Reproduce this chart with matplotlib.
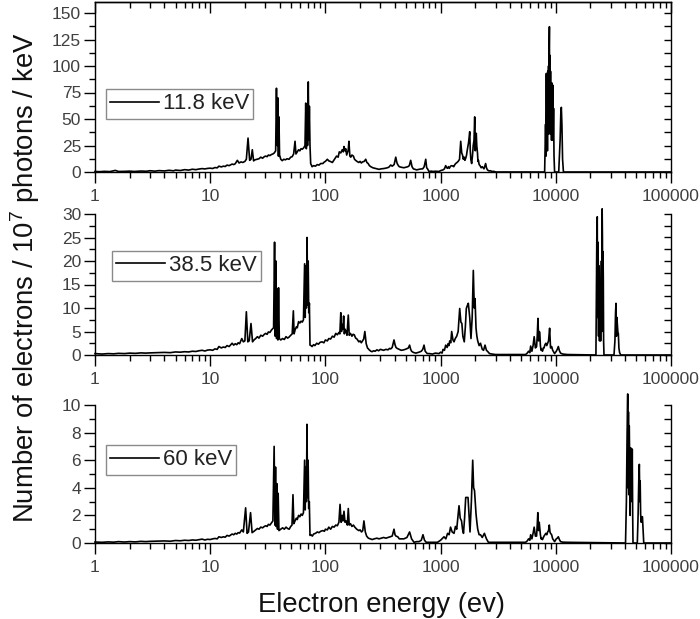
import matplotlib
matplotlib.use("Agg")
import matplotlib.pyplot as plt
from matplotlib.ticker import LogLocator, FuncFormatter, MultipleLocator, NullFormatter

plt.rcParams['font.family'] = ['Liberation Sans', 'DejaVu Sans']
plt.rcParams['mathtext.fontset'] = 'custom'
plt.rcParams['mathtext.rm'] = 'Liberation Sans'
plt.rcParams['mathtext.it'] = 'Liberation Sans'

# ---------------- data ----------------
labels = ['11.8 keV', '38.5 keV', '60 keV']

# 11.8 keV spectrum: (energy eV, electrons)
e_118 = [1, 1.1, 1.2, 1.35, 1.5, 1.6, 1.8, 2, 2.2, 2.5, 2.8, 3, 3.3, 3.6, 4, 4.4, 4.8, 5, 5.5, 6,
         6.5, 7, 7.5, 8, 8.5, 9, 9.5, 10, 10.5, 11, 11.5, 11.9, 12.5, 13, 13.5, 14, 14.6, 15.5, 16, 16.5,
         17.2, 17.8, 18.5, 19.2, 20, 20.6, 21.3, 22, 22.6, 23.2, 23.8, 24.5, 25.6, 26.5, 27.5, 28.5, 29.5, 30.3, 31.2, 32,
         33, 34, 35, 36, 37, 37.6, 38.1, 38.6, 39.1, 39.5, 40, 41, 42.2, 43.5, 45, 46.5, 48.3, 50, 51.5, 53,
         54.5, 55.5, 57, 58.5, 60, 61.5, 63, 65, 66.5, 67.5, 68.3, 69.2, 70, 71, 71.8, 72.6, 73.5, 74.5, 76.6, 79,
         82, 85, 88, 91, 95, 98, 100, 104, 107, 110, 115, 120, 125, 129, 132, 136, 140, 143, 145, 148,
         150, 153, 155, 158, 160, 163, 166, 170, 175, 179, 183, 188, 195, 200, 205, 210, 217, 224, 229, 235,
         241, 248, 258, 270, 280, 292, 305, 318, 330, 345, 355, 369, 380, 395, 408, 415, 420, 430, 438, 455,
         480, 500, 520, 535, 550, 565, 580, 600, 620, 635, 649, 670, 700, 720, 743, 757, 770, 793, 830, 860,
         900, 969, 1010, 1050, 1080, 1107, 1130, 1150, 1170, 1190, 1220, 1250, 1280, 1300, 1330, 1352, 1390, 1420, 1460, 1495,
         1525, 1550, 1575, 1600, 1625, 1652, 1680, 1700, 1750, 1790, 1810, 1830, 1860, 1890, 1920, 1950, 1977, 2000, 2020, 2040,
         2060, 2090, 2110, 2130, 2160, 2200, 2250, 2300, 2380, 2460, 2500, 2550, 2630, 2700, 2800, 2900, 3010, 8000, 8150, 8220,
         8280, 8330, 8400, 8460, 8520, 8580, 8650, 8700, 8760, 8800, 8850, 8900, 8950, 9000, 9060, 9120, 9180, 9250, 9320, 9400,
         9480, 9560, 9650, 9760, 10600, 10900, 11050, 11170, 11300, 11450, 11650, 100000]
n_118 = [0.5, 0.3, 0.6, 0.4, 1.5, 0.5, 0.6, 0.8, 0.5, 0.9, 0.7, 1.2, 0.8, 1.3, 1.0, 1.6, 1.1, 1.8, 1.4, 2.2,
         1.8, 2.6, 2.2, 2.8, 3.2, 2.9, 3.4, 3.6, 3.3, 4.2, 3.9, 5.5, 4.8, 5.5, 5.2, 6.5, 6.0, 7.5, 7.0, 7.8,
         11, 8.5, 9.5, 9.0, 10, 12, 32, 11, 12, 21, 10.5, 11.5, 12, 12.5, 14, 13, 14.5, 15, 14.5, 16,
         15.5, 16.5, 17, 18, 20, 79, 25, 70, 15, 52, 16, 12, 10.7, 12, 11.5, 12.5, 12, 14, 14.5, 17,
         29, 17, 19, 21, 20, 22, 21.5, 23, 25, 65, 22, 60, 25, 85, 30, 62, 25, 8, 5, 6,
         5.5, 7, 6.5, 8, 8, 9.5, 10, 12, 10.5, 10, 9, 12, 15, 14, 19, 18, 21, 19, 24, 20,
         22, 16, 18, 21, 29, 15, 14, 16, 15, 12, 11, 10, 9, 10, 8.5, 9.5, 10, 12, 9, 8,
         6, 5, 4, 3.5, 3, 2.5, 3, 3.2, 3.5, 4, 4.5, 6.6, 5.5, 7, 14, 10, 8, 6, 5, 4.5,
         4, 4.5, 5, 6, 11, 5, 3, 2.5, 2, 2.3, 2.5, 2.8, 3, 5, 12, 4, 3, 0.5, 0.8, 0.5,
         0.7, 0.5, 1.5, 2, 3, 6, 4, 3.5, 5, 3.5, 5.5, 6, 5.5, 5, 7, 8, 9, 10, 12, 29,
         18, 16, 12, 14, 11, 13, 16, 20, 28, 38, 20, 12, 8, 15, 25, 30, 52, 20, 30, 36.5,
         25, 18, 10, 11, 7, 6, 4, 5, 3, 8, 4, 2, 1, 1.2, 0.5, 0.6, 0, 0, 45, 15,
         93, 30, 92, 20, 95, 36, 100, 40, 120, 137, 36, 110, 40, 95, 36, 82, 30, 84, 36, 82,
         30, 60, 15, 0, 0, 30, 55, 61, 45, 12, 0, 0]

# 38.5 keV spectrum
e_385 = [1, 1.15, 1.3, 1.45, 1.6, 1.8, 2, 2.25, 2.5, 2.75, 3, 3.5, 4, 4.5, 5, 5.5, 6, 6.5, 7, 7.5,
         8, 8.5, 9, 9.5, 10, 10.5, 11, 11.5, 11.9, 12.5, 13, 13.5, 14, 14.6, 15.5, 16, 16.5, 17, 17.5, 18,
         18.8, 19.4, 20, 20.6, 21.2, 21.8, 22.6, 23.3, 24, 24.8, 25.7, 26.5, 27.5, 28.5, 29.5, 30.3, 31.2, 32, 33, 34,
         34.6, 35.5, 36.2, 36.7, 37.2, 37.7, 38.2, 38.7, 39.2, 39.8, 41, 42.5, 44, 45.5, 47, 48.3, 50, 51.5, 52.7, 53.5,
         54.5, 56, 57, 58.5, 60, 61.5, 63, 64.5, 66, 66.8, 67.6, 68.4, 69.3, 70.1, 70.9, 71.7, 72.6, 73.5, 75, 76.6,
         79, 81, 84, 87, 90, 93.5, 97, 100, 104, 107, 111, 115, 119, 123, 127, 131, 133.5, 136, 138, 140,
         142, 144, 146, 148, 151, 154, 158, 161, 165, 170, 174, 178, 183, 188, 195, 200, 205, 210, 215, 220,
         226, 232, 240, 248, 254, 262, 270, 280, 290, 300, 310, 320, 335, 350, 360, 369, 380, 394, 402, 410,
         420, 438, 455, 480, 505, 525, 538, 550, 560, 575, 588, 610, 630, 650, 680, 700, 718, 735, 766, 800,
         850, 900, 969, 1000, 1030, 1050, 1080, 1107, 1140, 1160, 1180, 1200, 1225, 1248, 1280, 1308, 1340, 1380, 1420, 1465,
         1500, 1530, 1560, 1605, 1640, 1672, 1705, 1740, 1790, 1835, 1880, 1923, 1960, 1990, 2030, 2065, 2100, 2160, 2220, 2300,
         2360, 2430, 2500, 2550, 2660, 2800, 3000, 5470, 5650, 5800, 5950, 6050, 6200, 6350, 6490, 6650, 6810, 6900, 7000, 7100,
         7180, 7260, 7350, 7450, 7550, 7660, 7800, 7900, 8050, 8200, 8350, 8500, 8650, 8840, 8950, 9000, 9200, 9400, 9600, 9760,
         10100, 10300, 10520, 10750, 11000, 11500, 12600, 22300, 22500, 22700, 22900, 23050, 23200, 23350, 23500, 23650, 23800, 23950, 24100, 24300,
         24500, 24700, 24900, 25100, 25250, 25400, 25550, 25700, 25850, 26000, 26200, 32000, 32600, 33000, 33300, 33600, 33900, 34300, 34600, 34900,
         35300, 35800, 36600, 100000]
n_385 = [0.3, 0.2, 0.3, 0.25, 0.35, 0.3, 0.4, 0.35, 0.45, 0.4, 0.45, 0.5, 0.55, 0.5, 0.65, 0.6, 0.7, 0.65, 0.8, 0.75,
         0.9, 1.0, 0.85, 1.05, 1.1, 1.0, 1.3, 1.2, 1.8, 1.5, 1.7, 1.6, 2.0, 1.8, 2.5, 2.1, 2.4, 2.2, 2.6, 2.4,
         3.5, 2.8, 3.0, 9.2, 2.8, 3.0, 6.7, 2.8, 3.2, 3.5, 3.9, 3.6, 4.2, 4.0, 4.4, 4.6, 4.4, 4.9, 4.8, 5.3,
         5.5, 5.8, 24, 4, 20, 3.5, 14, 3.2, 14.3, 3.5, 3.2, 3.5, 3.3, 3.9, 3.6, 3.8, 4.2, 4.5, 9.4, 4.5,
         5.3, 6.0, 5.8, 7.1, 6.8, 7.2, 7.0, 7.5, 19.4, 8, 19, 10, 25, 10.6, 20, 9, 11, 2.1, 2.0, 1.8,
         2.2, 2.0, 2.5, 2.3, 2.7, 2.8, 2.6, 3.2, 3.0, 3.5, 3.4, 4.0, 3.8, 4.6, 4.3, 4.8, 4.5, 9, 5.0, 6.5,
         5.5, 8.3, 4.5, 5.5, 5.0, 4.2, 8.5, 4.2, 4.6, 4.0, 4.4, 4.3, 3.6, 3.4, 2.8, 3.0, 2.6, 3.0, 3.4, 5.0,
         2.4, 1.5, 1.1, 0.8, 0.7, 0.9, 0.8, 1.1, 0.9, 1.2, 1.1, 1.0, 1.2, 1.1, 1.4, 1.3, 1.6, 3.2, 2.2, 1.6,
         1.4, 1.2, 1.0, 1.1, 1.3, 1.5, 2.1, 1.2, 0.8, 0.6, 0.5, 0.4, 0.5, 0.6, 0.8, 1.2, 2.1, 0.8, 0.3, 0.3,
         0.2, 0.4, 0.3, 0.6, 0.4, 1.2, 1.0, 2.1, 1.6, 2.4, 2.0, 3, 2.6, 5, 3.2, 2.8, 3.5, 4, 5, 9.9,
         7, 6.7, 4, 2.8, 6, 9.9, 10.5, 11, 8, 3.5, 8, 18, 10, 12, 5.7, 4, 3, 2.0, 2.5, 1.2,
         1.0, 2.1, 1.0, 0.8, 0.3, 0.2, 0.1, 0.1, 0.4, 0.8, 0.5, 1.9, 0.8, 2.0, 3.9, 1.5, 1.8, 4, 7.8, 3,
         5, 4.8, 2, 1, 1.2, 0.8, 1.5, 1.5, 2.2, 2.5, 2.0, 2.5, 3, 5.7, 2.5, 1.5, 1.8, 1.0, 0.6, 0.3,
         0.8, 1.2, 1.8, 0.9, 0.4, 0.2, 0.1, 0, 12, 25, 29.4, 8, 24, 20, 4, 19, 15, 3, 16, 14,
         3, 15, 20, 5, 31.1, 25, 6, 22, 16, 3, 0, 0, 3, 9, 11, 4, 8, 6, 4.8, 4.6,
         1.5, 0.5, 0, 0]

# 60 keV spectrum
e_60 = [1, 1.15, 1.3, 1.45, 1.6, 1.8, 2, 2.25, 2.5, 2.75, 3, 3.5, 4, 4.5, 5, 5.5, 6, 6.5, 7, 7.5,
        8, 8.5, 9, 9.5, 10, 10.5, 11, 11.5, 11.9, 12.5, 13, 13.5, 14, 14.6, 15.5, 16, 16.5, 17, 17.5, 18,
        18.8, 19.4, 20.3, 20.9, 21.5, 22.4, 23.1, 24, 24.8, 25.7, 26.5, 27.5, 28.5, 29.5, 30.3, 31.2, 32, 33, 34, 35,
        35.9, 36.4, 36.9, 37.4, 37.9, 38.4, 38.9, 39.5, 41, 42.5, 44, 45.5, 47, 48.5, 50, 51.3, 52.3, 53.2, 54.5, 56,
        57, 58.5, 60, 61.5, 63, 64.5, 66, 66.8, 67.6, 68.4, 69.2, 70, 70.8, 71.6, 72.5, 73.5, 75, 77, 79, 82,
        85, 88, 91, 95, 98, 100, 104, 107, 111, 115, 119, 123, 127, 131, 134, 137, 140, 142, 145, 148,
        151, 155, 158, 161, 165, 170, 175, 180, 187, 195, 200, 206, 211, 216, 222, 228, 236, 245, 255, 265,
        280, 292, 305, 320, 335, 350, 365, 380, 394, 402, 410, 425, 438, 480, 510, 538, 560, 588, 620, 650,
        680, 703, 725, 750, 850, 940, 1000, 1070, 1110, 1150, 1185, 1220, 1260, 1308, 1345, 1380, 1445, 1480, 1520, 1550,
        1580, 1615, 1652, 1690, 1730, 1765, 1800, 1850, 1900, 1935, 1970, 2000, 2030, 2065, 2100, 2160, 2220, 2300, 2400, 2500,
        2600, 5470, 5650, 5800, 5950, 6050, 6200, 6350, 6490, 6650, 6810, 6900, 6980, 7100, 7180, 7260, 7350, 7450, 7550, 7660,
        7800, 7900, 8050, 8200, 8350, 8500, 8650, 8780, 8900, 9000, 9200, 9400, 9600, 9760, 10100, 10300, 10520, 10750, 11000, 11500,
        12600, 40300, 41000, 41600, 42100, 42400, 42700, 43000, 43400, 43800, 44200, 44600, 45000, 45400, 45800, 46100, 46500, 46800, 51000, 51800,
        52500, 53100, 53600, 54000, 54500, 55200, 55800, 56500, 57200, 58000, 100000]
n_60 = [0.07, 0.05, 0.08, 0.06, 0.1, 0.07, 0.1, 0.08, 0.12, 0.1, 0.12, 0.14, 0.15, 0.13, 0.18, 0.16, 0.2, 0.18, 0.22, 0.2,
        0.24, 0.28, 0.22, 0.27, 0.25, 0.3, 0.33, 0.3, 0.45, 0.4, 0.45, 0.42, 0.55, 0.5, 0.65, 0.6, 0.7, 0.65, 0.75, 0.72,
        0.95, 0.8, 2.55, 0.7, 0.8, 2.2, 0.75, 0.85, 0.95, 1.05, 1.0, 1.15, 1.1, 1.2, 1.25, 1.2, 1.35, 1.3, 1.45, 1.6,
        7, 1.3, 5.5, 1.2, 4.3, 1.0, 3.6, 0.9, 1.0, 1.1, 1.0, 1.15, 1.05, 1.0, 1.2, 1.3, 3.5, 1.4, 1.6, 1.8,
        1.7, 2.0, 1.9, 2.1, 2.0, 2.2, 6, 2.4, 5.5, 3, 8.6, 3.3, 6, 2.5, 3, 0.55, 0.6, 0.5, 0.65, 0.7,
        0.8, 0.75, 0.85, 0.9, 0.85, 1.0, 0.95, 1.15, 1.0, 1.2, 1.15, 1.3, 1.25, 1.5, 2.8, 1.5, 2.0, 1.6, 2.3, 1.5,
        1.6, 1.3, 2.5, 1.3, 1.4, 1.2, 1.3, 1.15, 1.0, 0.9, 0.95, 0.8, 0.9, 1.6, 0.8, 0.5, 0.35, 0.3, 0.25, 0.3,
        0.35, 0.3, 0.35, 0.4, 0.35, 0.4, 0.45, 0.5, 1.0, 0.6, 0.5, 0.45, 0.3, 0.3, 0.4, 0.8, 0.3, 0.05, 0.1, 0.1,
        0.2, 0.6, 0.2, 0.05, 0.05, 0.05, 0.2, 0.45, 0.3, 0.7, 0.6, 1.15, 0.8, 0.7, 1.2, 1.0, 2.7, 1.8, 1.6, 1.0,
        0.7, 1.8, 3.3, 3.3, 3.3, 2, 0.8, 3, 6, 4, 3.8, 3, 2.1, 1.5, 1.0, 0.6, 0.6, 0.4, 0.7, 0.3,
        0.05, 0.05, 0.15, 0.3, 0.2, 0.6, 0.3, 0.7, 1.15, 0.5, 0.5, 1.3, 2.2, 0.9, 1.5, 1.1, 0.6, 0.3, 0.35, 0.25,
        0.4, 0.5, 0.6, 0.7, 0.6, 0.8, 0.9, 1.3, 0.8, 0.7, 0.6, 0.3, 0.2, 0.1, 0.3, 0.35, 0.45, 0.25, 0.1, 0.06,
        0.05, 0, 3, 8, 10.8, 4, 9.5, 3.5, 8.5, 6, 2, 6.9, 3, 6.8, 4, 6.8, 2, 0, 0, 2,
        4.5, 5.7, 3, 4.5, 2.1, 1.5, 1.9, 1.9, 1.0, 0, 0]

energies = [e_118, e_385, e_60]
counts = [n_118, n_385, n_60]
y_limits = [(0, 160), (0, 30), (0, 10)]
y_major = [[0, 25, 50, 75, 100, 125, 150], [0, 5, 10, 15, 20, 25, 30], [0, 2, 4, 6, 8, 10]]
y_minor_step = [12.5, 2.5, 1]

# ---------------- layout ----------------
W, H = 700, 619
fig = plt.figure(figsize=(W / 100, H / 100), dpi=100)
left = 95 / W
width = 576 / W
panel_px = [(172, 2.4), (355, 214), (543, 405)]
legend_anchor = [(0.019, 0.49), (0.0295, 0.74), (0.019, 0.71)]

tick_col = '#404040'
for i in range(3):
    b_px, t_px = panel_px[i]
    ax = fig.add_axes([left, (H - b_px) / H, width, (b_px - t_px) / H])
    ax.plot(energies[i], counts[i], color='black', lw=1.2, label=labels[i], clip_on=False)
    ax.set_xscale('log')
    ax.set_xlim(1, 1e5)
    ax.set_ylim(*y_limits[i])
    ax.xaxis.set_major_locator(LogLocator(base=10, numticks=10))
    ax.xaxis.set_minor_locator(LogLocator(base=10, subs=range(2, 10), numticks=20))
    ax.xaxis.set_major_formatter(FuncFormatter(lambda v, p: f'{v:g}'))
    ax.xaxis.set_minor_formatter(NullFormatter())
    ax.set_yticks(y_major[i])
    ax.yaxis.set_minor_locator(MultipleLocator(y_minor_step[i]))
    ax.tick_params(axis='both', which='major', direction='out', length=8, width=1,
                   labelsize=12.5, labelcolor=tick_col, top=False, right=False)
    ax.tick_params(axis='both', which='minor', direction='out', length=4.5, width=1,
                   top=False, right=False)
    ax.tick_params(axis='x', which='major', pad=4)
    ax.tick_params(axis='y', which='major', pad=2)
    for s in ax.spines.values():
        s.set_linewidth(1)
    ax.spines['right'].set_visible(False)
    if i > 0:
        ax.spines['top'].set_visible(False)

    sec = ax.secondary_yaxis('right')
    sec.set_yticks(y_major[i])
    sec.yaxis.set_minor_locator(MultipleLocator(y_minor_step[i]))
    sec.tick_params(axis='y', which='both', direction='in', length=5, width=1, labelright=False)
    sec.spines['right'].set_linewidth(1)

    if i == 0:
        st = ax.secondary_xaxis('top')
        st.xaxis.set_major_locator(LogLocator(base=10, numticks=10))
        st.xaxis.set_minor_locator(LogLocator(base=10, subs=range(2, 10), numticks=20))
        st.tick_params(axis='x', which='major', direction='in', length=8, width=1, labeltop=False)
        st.tick_params(axis='x', which='minor', direction='in', length=4.5, width=1, labeltop=False)
        st.xaxis.set_minor_formatter(NullFormatter())
        st.spines['top'].set_linewidth(1)

    leg = ax.legend(loc='upper left', bbox_to_anchor=legend_anchor[i], borderaxespad=0,
                    fontsize=16, handlelength=2.2, handletextpad=0.15, borderpad=0.2,
                    fancybox=False, framealpha=1, edgecolor='#8a8a8a')
    leg.get_frame().set_linewidth(1)
    for t in leg.get_texts():
        t.set_color('#222222')

fig.text(25 / W, 1 - 278 / H, r'Number of electrons / 10$^{7}$ photons / keV',
         rotation=90, ha='center', va='center', fontsize=19.8, color='#111111')
fig.text(381 / W, 1 - 605 / H, 'Electron energy (ev)', ha='center', va='center',
         fontsize=19.8, color='#111111')

fig.savefig('out.png', dpi=100)
